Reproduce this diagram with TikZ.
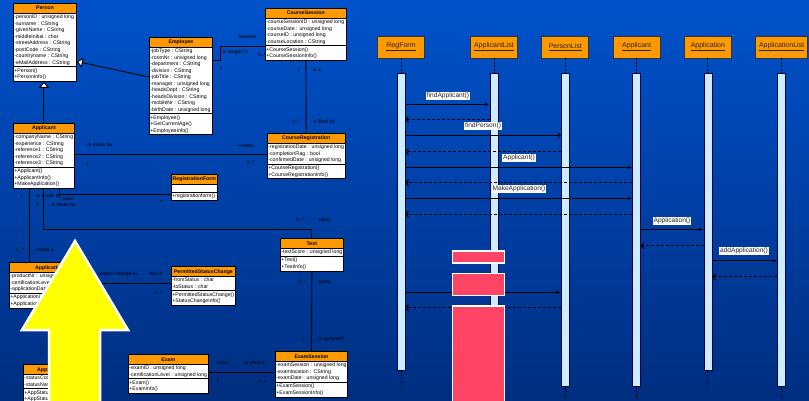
\documentclass[tikz,border=0pt]{standalone}
\usepackage{fontspec}
\setmainfont{Liberation Sans}
\usetikzlibrary{shapes.multipart,arrows.meta}

\definecolor{bgtop}{RGB}{0,82,204}
\definecolor{bgbottom}{RGB}{0,46,128}
\definecolor{clsorange}{RGB}{255,153,0}
\definecolor{barblue}{RGB}{206,236,255}
\definecolor{stickerpink}{RGB}{255,68,102}
\definecolor{bigyellow}{RGB}{255,255,0}

\newcommand{\umlfont}{\fontsize{5.2}{6.5}\selectfont}
\newcommand{\ctitle}[1]{\rule[-2.4pt]{0pt}{8.2pt}\textbf{#1}}
\newcommand{\cpart}[1]{\strut#1\strut}

\begin{document}
\begin{tikzpicture}[x=1pt,y=-1pt,node distance=71.3pt,
    umlclass/.style={rectangle split,rectangle split parts=3,draw=black,line width=0.8pt,
      rectangle split part fill={clsorange,white,white},
      rectangle split part align={center,left,left},
      align=left,font=\umlfont,inner xsep=1pt,inner ysep=0.4pt,anchor=north west},
    assoc/.style={line width=0.9pt},
    gen/.style={line width=0.9pt,-{Triangle[length=6pt,width=10pt,fill=white]}},
    rolelbl/.style={font=\fontsize{5}{6}\selectfont,inner sep=0pt,anchor=west},
    bigarrow/.style={fill=bigyellow,draw=white,line width=2.5pt},
    seqhead/.style={draw=black!80,fill=clsorange,line width=0.8pt,minimum width=47pt,
      minimum height=22pt,inner sep=1pt,font=\fontsize{7}{8}\selectfont,text=black!85},
    actbar/.style={draw=black!70!blue,fill=barblue,line width=0.7pt,minimum width=8pt,
      inner sep=0pt,anchor=north},
    lifeline/.style={line width=1pt,dash pattern=on 2pt off 1.5pt},
    call/.style={line width=0.8pt,-{Latex[length=4.5pt,width=3.5pt]}},
    callopen/.style={line width=0.8pt,-{Straight Barb[length=2.5pt,width=6pt]}},
    reply/.style={line width=1pt,dash pattern=on 3pt off 2pt,-{Straight Barb[length=2.5pt,width=6pt]}},
    msglabel/.style={fill=white,inner xsep=1pt,inner ysep=0.8pt,font=\fontsize{6.6}{7}\selectfont,text=black!85},
    sticker/.style={fill=stickerpink,draw=white,line width=1.2pt}]
  \useasboundingbox (0,0) rectangle (809,401);
  \shade[top color=bgtop,bottom color=bgbottom] (0,0) rectangle (809,401);

  % class diagram
  \node[umlclass,minimum width=63pt] (person) at (13,3) {\ctitle{Person}
    \nodepart{two}\cpart{-personID : unsigned long\\-surname : CString\\-givenName : CString\\-middleInitial : char\\-streetAddress : CString\\-postCode : CString\\-countryname : CString\\-eMailAddress : CString}
    \nodepart{three}\cpart{+Person()\\+PersonInfo()}};
  \node[umlclass,minimum width=63pt] (employee) at (149,37) {\ctitle{Employee}
    \nodepart{two}\cpart{-jobType : CString\\-roomNr : unsigned long\\-department : CString\\-division : CString\\-jobTitle : CString\\-manager : unsigned long\\-headsDept : CString\\-headsDivision : CString\\-mobileNr : CString\\-birthDate : unsigned long}
    \nodepart{three}\cpart{+Employee()\\+GetCurrentAge()\\+EmployeeInfo()}};
  \node[umlclass,minimum width=81pt] (coursesession) at (265,8) {\ctitle{CourseSession}
    \nodepart{two}\cpart{-courseSessionID : unsigned long\\-courseDate : unsigned long\\-courseID : unsigned long\\-courseLocation : CString}
    \nodepart{three}\cpart{+CourseSession()\\+CourseSessionInfo()}};
  \node[umlclass,minimum width=77pt] (courseregistration) at (267,133) {\ctitle{CourseRegistration}
    \nodepart{two}\cpart{-registrationDate : unsigned long\\-completionFlag : bool\\-confirmedDate : unsigned long}
    \nodepart{three}\cpart{+CourseRegistration()\\+CourseRegistrationInfo()}};
  \node[umlclass,minimum width=61pt] (applicant) at (13,123) {\ctitle{Applicant}
    \nodepart{two}\cpart{-companyName : CString\\-experience : CString\\-reference1 : CString\\-reference2 : CString\\-reference3 : CString}
    \nodepart{three}\cpart{+Applicant()\\+ApplicantInfo()\\+MakeApplication()}};
  \node[umlclass,minimum width=46pt] (registrationform) at (171,174) {\ctitle{RegistrationForm}
    \nodepart{two}\cpart{}
    \nodepart{three}\cpart{+registrationform()}};
  \node[umlclass,minimum width=80pt] (application) at (9,262) {\ctitle{Application}
    \nodepart{two}\cpart{-productNr : unsigned long\\-certificationLevel : unsigned long\\-applicationDate : unsigned long}
    \nodepart{three}\cpart{+Application()\\+ApplicationInfo()}};
  \node[umlclass] (appstatus) at (23,364) {\ctitle{AppStatus}
    \nodepart{two}\cpart{-statusCode : char\\-statusName : CString}
    \nodepart{three}\cpart{+AppStatus()\\+AppStatusInfo()}};
  \node[umlclass,minimum width=64pt] (statuschange) at (171,266) {\ctitle{PermittedStatusChange}
    \nodepart{two}\cpart{-fromStatus : char\\-toStatus : char}
    \nodepart{three}\cpart{+PermittedStatusChange()\\+StatusChangeInfo()}};
  \node[umlclass,minimum width=62pt] (test) at (280,238) {\ctitle{Test}
    \nodepart{two}\cpart{-testScore : unsigned long}
    \nodepart{three}\cpart{+Test()\\+TestInfo()}};
  \node[umlclass,minimum width=72pt] (examsession) at (275,351) {\ctitle{ExamSession}
    \nodepart{two}\cpart{-examSession : unsigned long\\-examlocation : CString\\-examDate : unsigned long}
    \nodepart{three}\cpart{+ExamSession()\\+ExamSessionInfo()}};
  \node[umlclass,minimum width=79pt] (exam) at (128,354) {\ctitle{Exam}
    \nodepart{two}\cpart{-examID : unsigned long\\-certificationLevel : unsigned long}
    \nodepart{three}\cpart{+Exam()\\+ExamInfo()}};

  \draw[gen] (applicant.north) -- (applicant.north |- person.south);
  \draw[gen] (employee.west |- 0,77) -- (person.east |- 0,61.5);
  \draw[assoc] (employee.east |- 0,60) -- ++(8,0) |- (coursesession.west |- 0,46);
  \draw[assoc] (coursesession.south) -- (courseregistration.north);
  \draw[assoc] (applicant.east |- 0,154.3) -- (courseregistration.west |- 0,154.3);
  \draw[assoc] (applicant.south -| 59.3,0) |- (registrationform.west |- 0,194);
  \draw[assoc] (applicant.south -| 29.3,0) -- (application.north -| 29.3,0);
  \draw[assoc] (applicant.south) -- (applicant.south |- 0,229.3) -| (test.north);
  \draw[assoc] (test.south) -- (examsession.north);
  \draw[assoc] (exam.east |- 0,372.7) -- (examsession.west |- 0,372.7);
  \draw[assoc] (application.east |- 0,283) -- (statuschange.west |- 0,283);
  \draw[assoc] (application.south -| 60,0) -- (appstatus.north -| 60,0);

  \foreach \x/\y/\lbl [count=\k] in {237/37/-teaches,221/52/-is taught by,258/55/0..*,220/69/1,
      297/70/1,311/70/-is in,292/122/0..*,311/122/-is filled by,
      86/145/-is made by,86/164/1,237/146/-makes,247/163/0..*,
      20/197/1,35/196/-is made by,61/199/-uses,36/205/1,50/205/-is taken by,160/202/*,
      296/220/0..*,317/220/-takes,16/250/1..*,35/250/-made a,
      98/274/-allows change in,148/274/-has a,155/293/1..*,
      298/282/0..*,317/282/-gives,302/339/1,317/339/-is achieved,
      216/363/-uses,216/381/1,243/363/-is used in,259/382/0..*,40/353/1}
    \node[rolelbl] (role\k) at (\x,\y) {\lbl};

  \draw[bigarrow] (75,241) -- (128,330) -- (100,330) -- (100,410) -- (49,410) -- (49,330) -- (22,330) -- cycle;

  % sequence diagram
  \node[seqhead] (hRegForm) at (401,47) {\underline{RegForm}};
  \node[seqhead] (hApplicantList) at (494,47) {\underline{ApplicantList}};
  \node[seqhead,right of=hApplicantList] (hPersonList) {\underline{PersonList}};
  \node[seqhead,right of=hPersonList] (hApplicant) {\underline{Applicant}};
  \node[seqhead,right of=hApplicant] (hApplication) {\underline{Application}};
  \node[seqhead,right of=hApplication,xshift=2.4pt,minimum width=52pt] (hApplicationList) {\underline{ApplicationList}};

  \node[actbar,minimum height=297pt] (bRegForm) at (hRegForm.south |- 0,73) {};
  \node[actbar,minimum height=335pt] (bApplicantList) at (hApplicantList.south |- 0,73) {};
  \node[actbar,minimum height=313pt] (bPersonList) at (hPersonList.south |- 0,73) {};
  \node[actbar,minimum height=313pt] (bApplicant) at (hApplicant.south |- 0,73) {};
  \node[actbar,minimum height=297pt] (bApplication) at (hApplication.south |- 0,73) {};
  \node[actbar,minimum height=313pt] (bApplicationList) at (hApplicationList.south |- 0,73) {};

  \foreach \s in {RegForm,ApplicantList,PersonList,Applicant,Application,ApplicationList}
    \draw[lifeline] (h\s) -- (b\s);
  \foreach \s in {RegForm,PersonList,Applicant,Application,ApplicationList}
    \draw[lifeline] (b\s.south) -- ++(0,17);

  \draw[call] (bRegForm.east |- 0,104.3) -- (bApplicantList.west |- 0,104.3);
  \draw[reply] (bApplicantList.west |- 0,119.3) -- (bRegForm.east |- 0,119.3);
  \draw[callopen] (bRegForm.east |- 0,135.7) -- (bPersonList.west |- 0,135.7);
  \draw[reply] (bPersonList.west |- 0,151.7) -- (bRegForm.east |- 0,151.7);
  \draw[call] (bRegForm.east |- 0,167.3) -- (bApplicant.west |- 0,167.3);
  \draw[reply] (bApplicant.west |- 0,182.7) -- (bRegForm.east |- 0,182.7);
  \draw[call] (bRegForm.east |- 0,198.3) -- (bApplicant.west |- 0,198.3);
  \draw[reply] (bApplicant.west |- 0,214) -- (bRegForm.east |- 0,214);
  \draw[call] (bApplicant.east |- 0,229.3) -- (bApplication.west |- 0,229.3);
  \draw[reply] (bApplication.west |- 0,245.7) -- (bApplicant.east |- 0,245.7);
  \draw[call] (bApplication.east |- 0,260.7) -- (bApplicationList.west |- 0,260.7);
  \draw[reply] (bApplicationList.west |- 0,276.7) -- (bApplication.east |- 0,276.7);
  \draw[call] (bRegForm.east |- 0,292.3) -- (bPersonList.west |- 0,292.3);
  \draw[reply] (bPersonList.west |- 0,307.7) -- (bRegForm.east |- 0,307.7);

  \node[msglabel] (mFindApplicant) at (448,96) {findApplicant()};
  \node[msglabel] (mFindPerson) at (483,126) {findPerson()};
  \node[msglabel] (mApplicant) at (519,158) {Applicant()};
  \node[msglabel] (mMakeApplication) at (519,189) {MakeApplication()};
  \node[msglabel] (mApplication) at (672,221) {Application()};
  \node[msglabel] (mAddApplication) at (744,251) {addApplication()};

  \draw[sticker] (452.5,251) rectangle (504.5,263);
  \draw[sticker] (452.5,273.5) rectangle (504.5,295.5);
  \draw[sticker] (452.5,306) rectangle (504.5,410);
\end{tikzpicture}
\end{document}
